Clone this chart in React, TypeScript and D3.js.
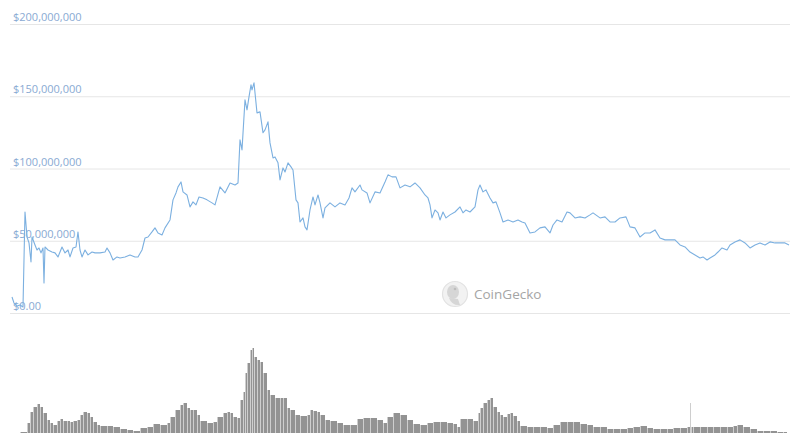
import React from "react";
import * as d3 from "d3";

const W = 799;
const H = 433;

// Market cap ($ millions), sampled by day offset from series start
const priceDays = [0,2,5,8,11,13,15,17,19,20,23,25,27,29,31,32,33,36,40,43,46,48,50,53,56,58,61,64,66,68,70,73,76,80,83,88,93,95,98,101,105,108,113,118,123,126,130,133,136,140,143,146,150,153,158,161,164,166,169,171,175,178,181,184,187,191,195,200,203,208,213,218,223,226,228,230,233,235,237,239,240,242,245,248,251,253,256,258,261,263,266,268,271,273,276,279,281,284,286,288,291,293,295,298,301,303,306,308,311,313,318,323,328,333,337,340,343,348,350,355,358,363,368,373,376,380,384,388,393,398,403,408,413,416,418,420,423,426,428,431,434,438,443,448,451,454,458,463,466,468,471,474,478,481,484,488,491,496,501,506,510,513,518,523,528,533,538,541,545,550,555,558,563,568,573,578,581,588,593,598,603,608,614,618,623,628,633,638,643,648,653,658,663,668,673,678,683,688,691,695,698,703,706,710,715,718,723,728,733,738,743,748,753,758,763,768,773,777];
const priceM = [11.1,6.9,4.8,5.5,4.2,69.9,52.6,48.5,35.3,52.6,47.1,43.6,45.0,41.6,45.0,20.8,45.7,43.6,42.2,41.6,38.8,42.2,45.7,41.6,43.6,38.8,45.0,45.7,56.1,43.6,38.8,43.6,40.2,42.2,41.6,41.6,42.2,45.0,41.6,36.7,38.8,38.1,38.8,40.2,38.8,38.8,43.6,51.9,52.6,56.1,58.9,55.4,54.0,58.9,64.4,78.3,83.1,87.3,90.7,83.8,81.7,73.4,76.9,74.8,80.3,79.6,78.3,76.2,74.8,87.3,83.1,90.0,88.6,90.0,119.8,112.9,147.5,140.6,149.6,157.9,154.4,159.3,138.5,139.2,124.7,126.7,132.3,117.7,107.3,108.0,103.9,92.1,100.4,97.6,103.9,101.1,99.0,78.3,76.2,63.0,65.8,59.6,57.5,71.3,80.3,74.8,81.7,76.2,65.8,72.7,76.2,73.4,76.2,74.8,79.6,86.6,83.8,88.6,85.2,83.1,76.2,83.8,83.1,90.7,95.6,94.2,94.2,86.6,88.6,87.3,90.0,86.6,81.7,79.6,74.8,65.8,71.3,69.3,64.4,69.9,65.8,67.9,69.9,73.4,69.3,71.3,69.9,73.4,85.2,88.6,83.8,85.2,79.6,76.2,76.9,69.3,63.0,64.4,63.0,64.4,63.0,62.3,55.4,56.1,58.9,59.6,55.4,60.9,64.4,63.0,69.9,69.3,65.8,66.5,65.8,67.9,69.3,65.8,66.5,63.0,63.0,65.8,66.5,59.6,58.9,52.6,55.4,55.4,57.5,51.9,50.6,50.6,50.6,47.1,45.7,42.2,40.2,38.1,38.8,36.7,38.1,40.2,42.2,45.0,43.6,47.1,49.2,50.6,48.5,45.0,47.1,48.5,47.1,49.2,48.5,48.5,48.5,47.1];

// Volume ($ millions), by day offset
const volDays = [4,8,15,18,21,25,28,31,35,38,41,45,48,51,55,58,61,65,68,71,75,78,81,85,88,95,101,108,115,121,128,135,141,148,155,158,163,168,171,175,178,181,185,188,195,201,205,211,215,218,221,225,228,231,233,235,238,240,242,245,248,251,255,258,263,268,271,275,278,283,288,295,298,301,305,308,313,318,325,331,338,345,351,358,365,371,375,381,388,395,401,408,415,421,428,435,441,445,448,455,461,466,468,471,475,478,481,485,488,491,495,498,501,505,508,515,521,528,535,541,548,555,561,568,575,581,588,595,601,608,615,621,628,635,641,648,655,661,668,675,678,679,681,688,695,701,708,715,721,725,731,738,745,751,758,765,771,775];
const volM = [0.1,0.2,1.1,2.2,2.7,3.0,2.7,2.1,1.4,1.1,0.9,1.3,1.5,1.3,1.3,1.2,1.3,1.4,1.9,2.2,2.1,1.7,1.2,0.9,0.8,0.8,0.7,0.5,0.4,0.3,0.6,0.7,1.0,0.9,1.1,1.7,2.4,2.9,3.1,2.6,2.4,2.4,1.9,1.3,1.1,1.2,1.7,2.1,2.2,2.1,1.7,1.6,3.4,4.2,6.1,7.1,8.4,8.6,7.7,7.4,7.2,6.1,4.4,3.9,3.6,3.6,3.6,2.6,2.4,1.9,1.8,1.9,2.4,2.3,2.2,1.9,1.4,1.3,1.1,0.9,0.9,1.5,1.6,1.6,1.4,1.1,1.7,2.1,1.9,1.4,1.0,0.9,1.1,1.2,1.2,1.1,1.0,0.7,1.5,1.5,1.3,2.1,2.6,3.1,3.4,3.6,2.7,2.2,1.9,1.7,2.0,2.1,1.8,1.3,0.8,0.7,0.7,0.7,0.6,0.9,1.2,1.2,1.2,1.0,0.9,0.7,0.7,0.5,0.5,0.5,0.6,0.7,0.8,0.6,0.5,0.5,0.5,0.6,0.6,0.7,3.1,0.7,0.7,0.7,0.7,0.7,0.7,0.7,0.8,0.9,0.7,0.5,0.3,0.3,0.3,0.2,0.2,0.1];

const yTicks = [0, 50, 100, 150, 200];
const yTickLabels = ["$0.00", "$50,000,000", "$100,000,000", "$150,000,000", "$200,000,000"];

export default function App() {
  const x = d3.scaleLinear().domain([0, 777]).range([12, 789]);
  const y = d3.scaleLinear().domain([0, 200]).range([313, 24]);
  const yv = d3.scaleLinear().domain([0, 10]).range([434, 334]);

  const pts = priceDays.map((d, i) => [d, priceM[i]] as [number, number]);
  const line = d3
    .line<[number, number]>()
    .x((d) => x(d[0]))
    .y((d) => y(d[1]));

  const bars = volDays.map((d, i) => {
    const x0 = Math.round(x(d));
    const x1 = i < volDays.length - 1 ? Math.round(x(volDays[i + 1])) : x0 + 4;
    return { x: x0, w: Math.max(x1 - x0, 1), y: yv(volM[i]) };
  });

  const font = "'Open Sans', 'Noto Sans', sans-serif";

  return (
    <svg
      width={W}
      height={H}
      style={{ position: "fixed", left: 0, top: 0, display: "block", background: "#fff" }}
    >
      {yTicks.map((t, i) => (
        <g key={t}>
          <line x1={10} x2={790} y1={y(t) + 0.5} y2={y(t) + 0.5} stroke="#e6e6e6" strokeWidth={1} />
          <text x={13} y={y(t) - 3} fontFamily={font} fontSize={11} fill="#89aad3">
            {yTickLabels[i]}
          </text>
        </g>
      ))}

      {/* watermark */}
      <g>
        <circle cx={455} cy={294} r={12.5} fill="#f2f2f2" stroke="#e2e2e2" strokeWidth={1.2} />
        <ellipse cx={453} cy={292} rx={6} ry={7} fill="#d6d6d6" />
        <path d="M449,298 Q452,306 460,305 L458,299 Z" fill="#d6d6d6" />
        <circle cx={455} cy={289} r={1.3} fill="#bdbdbd" />
        <text x={474} y={299} fontFamily={font} fontSize={13.5} fill="#a5a5a5">
          CoinGecko
        </text>
      </g>

      <g shapeRendering="crispEdges">
        {bars.map((b, i) => (
          <rect key={i} x={b.x} y={b.y} width={b.w} height={434 - b.y} fill="#939393" />
        ))}
        {bars.map((b, i) => (
          <rect key={"g" + i} x={b.x} y={b.y} width={1} height={434 - b.y} fill="#ffffff" opacity={0.55} />
        ))}
      </g>

      <path d={line(pts) || ""} fill="none" stroke="#7cb0e0" strokeWidth={1.1} strokeLinejoin="round" />
    </svg>
  );
}
